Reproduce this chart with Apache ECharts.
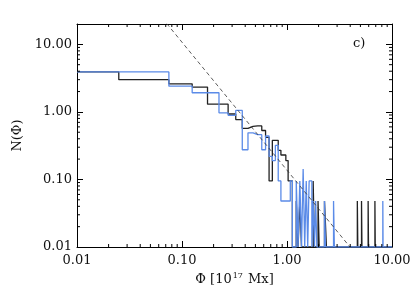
<!DOCTYPE html>
<html><head><meta charset="utf-8">
<script src="https://cdn.jsdelivr.net/npm/echarts@6/dist/echarts.min.js"></script>
<style>html,body{margin:0;padding:0;background:#fff}#c{width:415px;height:297px}</style>
</head><body><div id="c"></div>
<script>
// ---- data ----
const binWidth = 0.05;
const xMin = 0.01, xMax = 10, yMin = 0.01, yMax = 20;
const blackPhi = [0.00,0.05,0.10,0.15,0.20,0.25,0.30,0.35,0.40,0.45,0.50,0.55,0.60,0.65,0.70,0.75,0.80,0.85,0.90,0.95,1.00,1.05,1.10,1.25,1.35,1.80,2.00,2.30,2.35,4.70,5.15,5.95,6.90];
const blackN   = [3.90,3.00,2.60,2.33,1.30,1.30,0.93,0.77,0.57,0.61,0.62,0.62,0.53,0.42,0.095,0.38,0.38,0.27,0.23,0.23,0.19,0.095,0.095,0.048,0.048,0.095,0.048,0.048,0.048,0.048,0.048,0.048,0.048];
const bluePhi  = [0.00,0.05,0.10,0.15,0.20,0.25,0.30,0.35,0.40,0.45,0.50,0.55,0.60,0.65,0.70,0.75,0.80,0.85,0.90,0.95,1.00,1.05,1.10,1.25,1.35,1.45,1.55,1.65,1.70,1.80,1.90,2.30,2.80,8.20];
const blueN    = [3.90,3.90,2.40,1.92,1.92,0.97,0.89,1.05,0.275,0.49,0.46,0.46,0.275,0.44,0.22,0.19,0.32,0.095,0.048,0.048,0.048,0.048,0.095,0.095,0.095,0.143,0.095,0.095,0.095,0.048,0.048,0.048,0.048,0.048];
const fitLine  = [[0.0715,20.3],[3.98,0.01]];
const xMinorTicks = [0.02,0.03,0.04,0.05,0.06,0.07,0.08,0.09,0.2,0.3,0.4,0.5,0.6,0.7,0.8,0.9,2,3,4,5,6,7,8,9];
const yMinorTicks = [0.02,0.03,0.04,0.05,0.06,0.07,0.08,0.09,0.2,0.3,0.4,0.5,0.6,0.7,0.8,0.9,2,3,4,5,6,7,8,9];
const decadeLabels = [0.01,0.1,1,10];

// ---- build step outline from bins ----
function stepPoints(phi, n) {
  const pts = [];
  const eps = 1e-6;
  for (let i = 0; i < phi.length; i++) {
    const lo = Math.max(phi[i] - binWidth/2, xMin);
    const hi = phi[i] + binWidth/2;
    const v = n[i] > 0 ? n[i] : yMin;
    if (i > 0 && Math.abs(phi[i] - binWidth - phi[i-1]) > eps) pts.push([lo, yMin]);
    pts.push([lo, v]); pts.push([hi, v]);
    if (i < phi.length - 1 && Math.abs(phi[i+1] - binWidth - phi[i]) > eps) pts.push([hi, yMin]);
  }
  pts.push([phi[phi.length-1] + binWidth/2, yMin]);
  pts.push([xMax, yMin]);
  return pts;
}

const FONT = 'DejaVu Serif';
const isDecade = v => decadeLabels.some(d => Math.abs(v - d) / d < 1e-6);

const chart = echarts.init(document.getElementById('c'), null, {renderer: 'canvas'});
const axisCommon = {
  type: 'log', logBase: 10,
  axisLine: {show: true, lineStyle: {color: '#000', width: 1}},
  axisTick: {show: true, inside: true, length: 6, lineStyle: {color: '#000', width: 1}},
  splitLine: {show: false},
  minorTick: {show: false}
};
chart.setOption({
  animation: false,
  grid: {left: 77, right: 23, top: 24, bottom: 50, containLabel: false},
  xAxis: [
    Object.assign({}, axisCommon, {
      min: xMin, max: xMax, position: 'bottom',
      axisLabel: {show: true, margin: 7, color: '#111', fontFamily: FONT, fontSize: 13,
        formatter: v => isDecade(v) ? v.toFixed(2) : ''},
      name: '{a|Φ [10}{s|17}{a| Mx]}', nameLocation: 'middle', nameGap: 25,
      nameTextStyle: {rich: {
        a: {fontFamily: FONT, fontSize: 13, color: '#111'},
        s: {fontFamily: FONT, fontSize: 8, color: '#111', padding: [0, 1, 7, 1]}
      }}
    }),
    Object.assign({}, axisCommon, {min: xMin, max: xMax, position: 'top', axisLabel: {show: false}})
  ],
  yAxis: [
    Object.assign({}, axisCommon, {
      min: yMin, max: yMax, position: 'left',
      axisLabel: {show: true, margin: 5, color: '#111', fontFamily: FONT, fontSize: 13,
        formatter: v => isDecade(v) ? v.toFixed(2) : ''},
      name: 'N(Φ)', nameLocation: 'middle', nameGap: 48,
      nameTextStyle: {fontFamily: FONT, fontSize: 13, color: '#111'}
    }),
    Object.assign({}, axisCommon, {min: yMin, max: yMax, position: 'right', axisLabel: {show: false}})
  ],
  graphic: [{type: 'text', left: 353, top: 37, style: {text: 'c)', font: '13px "DejaVu Serif"', fill: '#111'}}],
  series: [
    {
      type: 'custom', silent: true, clip: false, z: 5,
      data: xMinorTicks.map(v => [v, 1]),
      renderItem: (params, api) => {
        const b = api.coord([api.value(0), yMin]);
        const t = api.coord([api.value(0), yMax]);
        return {type: 'group', children: [
          {type: 'line', shape: {x1: b[0], y1: b[1], x2: b[0], y2: b[1] - 3}, style: {stroke: '#000', lineWidth: 1}},
          {type: 'line', shape: {x1: t[0], y1: t[1], x2: t[0], y2: t[1] + 3}, style: {stroke: '#000', lineWidth: 1}}
        ]};
      }
    },
    {
      type: 'custom', silent: true, clip: false, z: 5,
      data: yMinorTicks.map(v => [1, v]),
      renderItem: (params, api) => {
        const l = api.coord([xMin, api.value(1)]);
        const r = api.coord([xMax, api.value(1)]);
        return {type: 'group', children: [
          {type: 'line', shape: {x1: l[0], y1: l[1], x2: l[0] + 3, y2: l[1]}, style: {stroke: '#000', lineWidth: 1}},
          {type: 'line', shape: {x1: r[0], y1: r[1], x2: r[0] - 3, y2: r[1]}, style: {stroke: '#000', lineWidth: 1}}
        ]};
      }
    },
    {
      type: 'line', data: stepPoints(blackPhi, blackN), showSymbol: false, silent: true,
      lineStyle: {color: '#222', width: 1.3}, clip: true, z: 2
    },
    {
      type: 'line', data: stepPoints(bluePhi, blueN), showSymbol: false, silent: true,
      lineStyle: {color: '#5b8be8', width: 1.3}, clip: true, z: 3
    },
    {
      type: 'line', data: fitLine, showSymbol: false, silent: true,
      lineStyle: {color: '#333', width: 0.8, type: [4, 3]}, clip: true, z: 4
    }
  ]
});
</script>
</body></html>
